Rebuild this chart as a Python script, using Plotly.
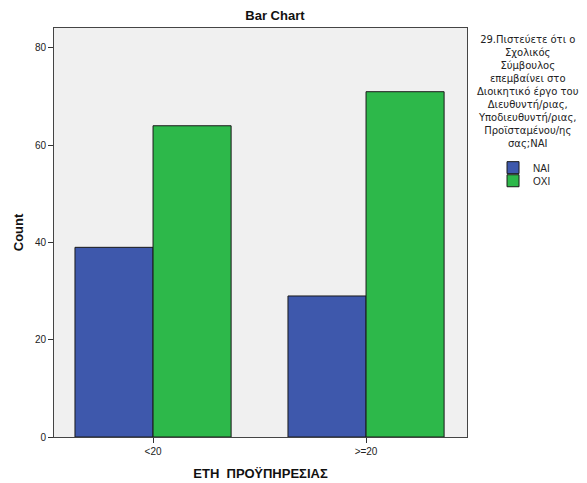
import plotly.graph_objects as go

categories = ["<20", ">=20"]
nai_values = [39, 29]
oxi_values = [64, 71]
series_names = ["NAI", "OXI"]
y_ticks = [0, 20, 40, 60, 80]

FONT = "Liberation Sans, Arial, sans-serif"

fig = go.Figure()
fig.add_trace(go.Bar(x=categories, y=nai_values, name=series_names[0], legend="legend",
                     marker=dict(color="#3E58AC", line=dict(color="#1a1a1a", width=1))))
fig.add_trace(go.Bar(x=categories, y=oxi_values, name=series_names[1], legend="legend2",
                     marker=dict(color="#2DB84A", line=dict(color="#1a1a1a", width=1))))

legend_common = dict(xanchor="left", yanchor="top", font=dict(size=10, color="#222"),
                     itemwidth=30, bgcolor="rgba(0,0,0,0)")

# page has an 8px body margin, so the figure is sized to fit the 587x483 window
fig.update_layout(
    width=579, height=475,
    margin=dict(l=46, r=120, t=20, b=46, autoexpand=False),
    paper_bgcolor="white", plot_bgcolor="#F0F0F0",
    barmode="group", bargap=0.267, bargroupgap=0,
    font=dict(family=FONT, size=10, color="#222"),
    title=dict(text="<b>Bar Chart</b>", x=0.461, xanchor="center", y=0.985, yanchor="middle",
               automargin=False, font=dict(size=13, color="#111")),
    showlegend=True,
    legend=dict(x=1.063, y=0.694, **legend_common),
    legend2=dict(x=1.063, y=0.662, **legend_common),
    xaxis=dict(range=[-0.465, 1.474], showline=True, linecolor="#444", mirror=True,
               ticks="outside", ticklen=5, tickcolor="#333", showgrid=False, automargin=False,
               title=dict(text="<b>ΕΤΗ  ΠΡΟΫΠΗΡΕΣΙΑΣ</b>", font=dict(size=13, color="#111"), standoff=12),
               tickfont=dict(size=10)),
    yaxis=dict(range=[0, 84.1], tickvals=y_ticks, showline=True, linecolor="#444", mirror=True,
               ticks="outside", ticklen=5, tickcolor="#333", showgrid=False, zeroline=False,
               automargin=False,
               title=dict(text="<b>Count</b>", font=dict(size=13, color="#111"), standoff=8),
               tickfont=dict(size=10)),
)

fig.add_annotation(
    xref="paper", yref="paper", x=1.148, y=0.99, xanchor="center", yanchor="top",
    showarrow=False, align="center",
    text=("29.Πιστεύετε ότι ο<br>Σχολικός<br>Σύμβουλος<br>επεμβαίνει στο<br>"
          "Διοικητικό έργο του<br>Διευθυντή/ριας,<br>Υποδιευθυντή/ριας,<br>"
          "Προϊσταμένου/ης<br>σας;ΝΑΙ"),
    font=dict(size=10, color="#222", family="DejaVu Sans"),
)

fig.write_html("out.html")
